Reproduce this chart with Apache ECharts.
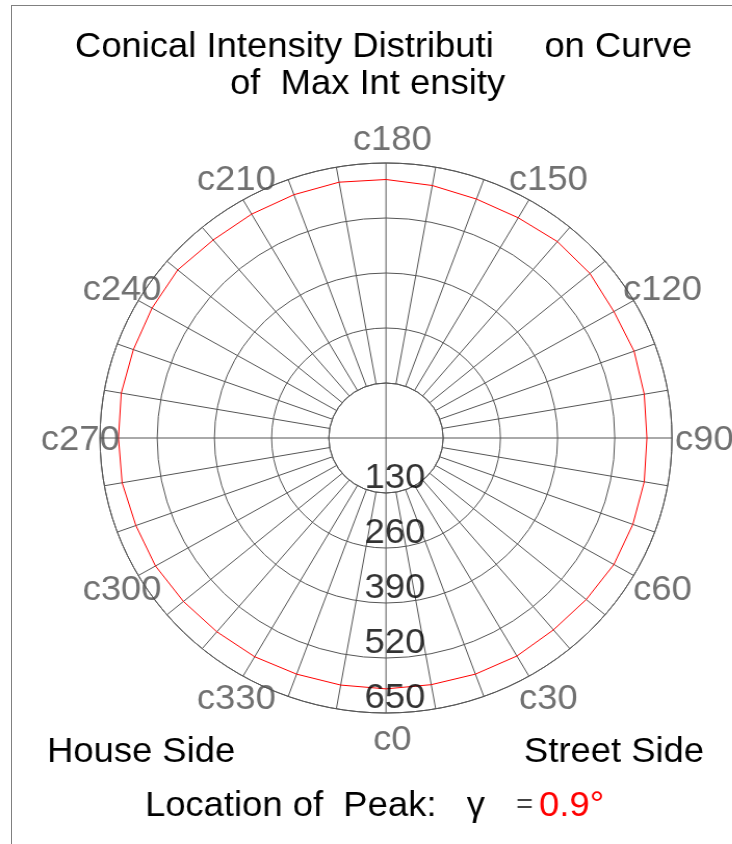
<!DOCTYPE html>
<html><head><meta charset="utf-8">
<script src="https://cdn.jsdelivr.net/npm/echarts@6/dist/echarts.min.js"></script>
<style>
html,body{margin:0;padding:0;background:#fff;overflow:hidden;width:732px;height:844px;}
#frame{position:absolute;left:11px;top:5px;width:740px;height:850px;border-left:1px solid #808080;border-top:1px solid #808080;}
#chart{position:absolute;left:0;top:0;width:704px;height:844px;transform:scaleX(1.04);transform-origin:0 0;}
</style></head><body>
<div id="frame"></div>
<div id="chart"></div>
<script>
// C-plane angles (degrees) and intensity
const angleDeg = [0,10,20,30,40,50,60,70,80,90,100,110,120,130,140,150,160,170,180,190,200,210,220,230,240,250,260,270,280,290,300,310,320,330,340,350,360];
const intensity = [593,592,594,595,592,594,598,597,596,593,596,600,598,605,606,601,601,606,611,614,612,611,611,618,614,611,611,608,609,605,605,601,598,597,594,593,593];
// radial tick labels
const radialTicks = [130,260,390,520,650];
// angle labels
const angleLabelValues = [0,30,60,90,120,150,180,210,240,270,300,330];
const angleLabels = ['c0','c30','c60','c90','c120','c150','c180','c210','c240','c270','c300','c330'];
// texts
const titleLines = ['Conical Intensity Distributi     on Curve', 'of  Max Int ensity'];
const sideLabels = ['House Side', 'Street Side'];
const peakLabel = 'Location of  Peak:   \u03b3';
const peakEq = '=';
const peakValue = '0.9\u00b0';

const FONT = '"Liberation Sans", Arial, Helvetica, sans-serif';
const GRID = '#555555';
const SX = 1.04;
const cx = 386 / SX, cy = 438;

const chart = echarts.init(document.getElementById('chart'));

function txt(text, x, y, size, color) {
  return {type: 'text', x: x / SX, y: y, silent: true,
    style: {text: text, fontSize: size, fontFamily: FONT, fill: color, align: 'left', verticalAlign: 'middle'}};
}

const option = {
  animation: false,
  backgroundColor: 'transparent',
  polar: [
    {center: [cx, cy], radius: [55, 275]},
    {center: [cx, cy], radius: [0, 55]},
    {center: [cx + 6, cy + 2], radius: 300}
  ],
  angleAxis: [
    {polarIndex: 0, type: 'value', min: 0, max: 360, interval: 10, startAngle: 270, clockwise: false,
      axisLine: {show: true, lineStyle: {color: GRID, width: 1}},
      axisTick: {show: false}, axisLabel: {show: false},
      splitLine: {show: true, lineStyle: {color: GRID, width: 1}}},
    {polarIndex: 1, type: 'value', min: 0, max: 360, interval: 90, startAngle: 270, clockwise: false,
      axisLine: {show: false}, axisTick: {show: false}, axisLabel: {show: false},
      splitLine: {show: true, lineStyle: {color: GRID, width: 1}}},
    {polarIndex: 2, type: 'value', min: 0, max: 360, interval: 30, startAngle: 270, clockwise: false, show: false}
  ],
  radiusAxis: [
    {polarIndex: 0, type: 'value', min: 130, max: 650, interval: 130,
      axisLine: {show: false}, axisTick: {show: false}, axisLabel: {show: false},
      splitLine: {show: true, lineStyle: {color: GRID, width: 1}}},
    {polarIndex: 1, type: 'value', min: 0, max: 130, show: false},
    {polarIndex: 2, type: 'value', min: 0, max: 1, show: false}
  ],
  series: [
    {type: 'line', coordinateSystem: 'polar', polarIndex: 0, silent: true, z: 5,
      data: angleDeg.map((a, i) => [intensity[i], a]),
      symbol: 'none', lineStyle: {color: '#ff0000', width: 1}},
    {type: 'scatter', coordinateSystem: 'polar', polarIndex: 0, silent: true, z: 10,
      data: radialTicks.map(v => [v, 0]),
      symbolSize: 1, itemStyle: {color: 'rgba(0,0,0,0)'},
      label: {show: true, position: 'inside', offset: [8.6, -15],
        formatter: p => String(p.value[0]),
        fontSize: 35, fontFamily: FONT, color: '#000000'}},
    {type: 'scatter', coordinateSystem: 'polar', polarIndex: 2, silent: true, z: 10,
      data: angleLabelValues.map((a, i) => ({name: angleLabels[i], value: [1, a]})),
      symbolSize: 1, itemStyle: {color: 'rgba(0,0,0,0)'},
      label: {show: true, position: 'inside', formatter: '{b}',
        fontSize: 35, fontFamily: FONT, color: '#4d4d4d'}}
  ],
  graphic: [
    txt(titleLines[0], 75, 47, 35, '#000000'),
    txt(titleLines[1], 230, 84, 35, '#000000'),
    txt(sideLabels[0], 47, 752, 35, '#000000'),
    txt(sideLabels[1], 524, 752, 35, '#000000'),
    txt(peakLabel, 145, 806, 35, '#000000'),
    txt(peakEq, 516, 805, 28, '#444444'),
    txt(peakValue, 539, 806, 35, '#ff0000')
  ]
};
chart.setOption(option);
</script>
</body></html>
